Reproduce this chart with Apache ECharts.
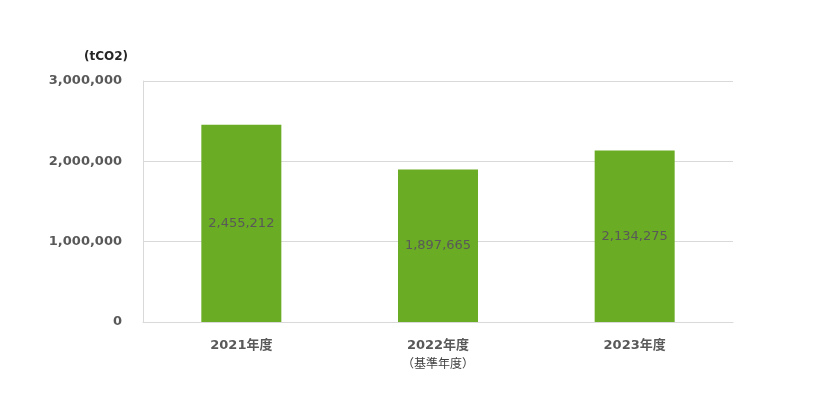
<!DOCTYPE html>
<html>
<head>
	<meta charset="UTF-8">
	<title>CO2 emissions</title>
	<script src="https://cdn.jsdelivr.net/npm/echarts@6/dist/echarts.min.js"></script>
	<style>
		html, body { margin: 0; padding: 0; background: #fff; }
		#main { width: 820px; height: 400px; }
	</style>
</head>
<body>
<div id="main"></div>
<script type="text/javascript">
	// データ
	var years = ['2021年度', '2022年度', '2023年度'];
	var subLabels = ['', '（基準年度）', ''];
	var emissions = [2455212, 1897665, 2134275];
	var yTicks = [0, 1000000, 2000000, 3000000];

	var fontFam = '"DejaVu Sans", "Noto Sans CJK JP", sans-serif';

	var myChart = echarts.init(document.getElementById('main'));
	var option = {
		animation: false,
		title: {
			text: '(tCO2)',
			left: 79,
			top: 46,
			textStyle: { fontSize: 12, fontWeight: 'bold', color: '#262626', fontFamily: fontFam }
		},
		grid: { left: 143, right: 87, top: 81, bottom: 78 },
		xAxis: {
			type: 'category',
			data: years,
			axisLine: { show: true, lineStyle: { color: '#d9d9d9' } },
			axisTick: { show: false },
			axisLabel: {
				margin: 14,
				interval: 0,
				formatter: function (v, i) {
					var s = '{a|' + v + '}';
					if (subLabels[i]) s += '\n{b|' + subLabels[i] + '}';
					return s;
				},
				rich: {
					a: { fontSize: 13, fontWeight: 'bold', color: '#595959', fontFamily: fontFam, lineHeight: 19 },
					b: { fontSize: 12, color: '#404040', fontFamily: '"Noto Sans CJK JP"', lineHeight: 17 }
				}
			}
		},
		yAxis: {
			type: 'value',
			min: yTicks[0],
			max: yTicks[yTicks.length - 1],
			interval: 1000000,
			axisLine: { show: true, lineStyle: { color: '#d9d9d9' } },
			axisTick: { show: false },
			splitLine: { lineStyle: { color: '#d9d9d9' } },
			axisLabel: {
				margin: 21,
				fontSize: 13,
				fontWeight: 'bold',
				color: '#595959',
				fontFamily: fontFam,
				formatter: function (v) { return v.toLocaleString('en-US'); }
			}
		},
		series: [{
			type: 'bar',
			data: emissions,
			barWidth: 80,
			itemStyle: { color: '#6aac23' },
			label: {
				show: true,
				position: 'inside',
				fontSize: 13,
				color: '#595959',
				fontFamily: fontFam,
				formatter: function (p) { return p.value.toLocaleString('en-US'); }
			}
		}]
	};
	myChart.setOption(option);
</script>
</body>
</html>
